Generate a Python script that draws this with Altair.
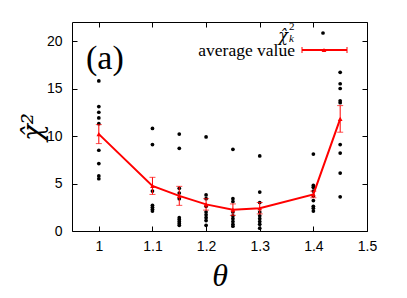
import altair as alt
import pandas as pd

theta_cols = [1.0, 1.1, 1.15, 1.2, 1.25, 1.3, 1.4, 1.45]
chi_k = [
    [15.8, 13.1, 12.5, 11.9, 11.3, 8.5, 7.1, 5.8, 5.5],
    [10.8, 9.1, 4.2, 2.7, 2.5, 2.3, 2.1],
    [10.2, 8.7, 4.5, 4.0, 3.4, 1.4, 1.2, 1.0, 0.8, 0.6],
    [9.9, 3.8, 3.4, 2.6, 2.0, 1.7, 1.4, 1.1, 0.6],
    [8.6, 3.4, 3.1, 2.0, 1.6, 1.3, 1.0, 0.7, 0.5],
    [7.9, 4.1, 3.0, 2.0, 1.6, 1.3, 1.0, 0.7, 0.3],
    [8.1, 4.8, 4.6, 4.2, 3.7, 3.2, 2.6, 2.4, 2.1],
    [16.7, 15.5, 15.0, 13.7, 13.5, 9.1, 8.2, 6.1, 3.6],
]
avg_value = [10.2, 4.75, 3.7, 2.8, 2.25, 2.4, 3.85, 11.8]
avg_err = [1.0, 0.9, 1.0, 0.6, 0.6, 0.6, 0.35, 1.4]
x_ticks = [1.0, 1.1, 1.2, 1.3, 1.4, 1.5]
y_ticks = [0, 5, 10, 15, 20]
panel_label = "(a)"
legend_labels = ["χ̂", "2", "k", "average value"]

W, H = 295, 209

pts_df = pd.DataFrame(
    [{"theta": t, "chi": v} for t, col in zip(theta_cols, chi_k) for v in col]
)
avg_df = pd.DataFrame({"theta": theta_cols, "avg": avg_value, "err": avg_err})

xs = alt.Scale(domain=[0.95, 1.5], nice=False, zero=False)
ys = alt.Scale(domain=[0, 22], nice=False, zero=False)

LABEL_FONT = "Liberation Sans"
SERIF = "Liberation Serif"
MATH = "DejaVu Serif"

base_axis = dict(grid=False, domain=False, labelFlush=False)

# points: main labeled axes
pts = alt.Chart(pts_df).mark_circle(color="black", size=14, opacity=1).encode(
    x=alt.X("theta:Q", scale=xs, axis=alt.Axis(
        orient="bottom", values=x_ticks, format="~g", ticks=False,
        labelFont=LABEL_FONT, labelFontSize=14, labelColor="black", labelPadding=8,
        title="θ", titleFont=SERIF, titleFontStyle="italic", titleFontWeight="normal",
        titleFontSize=32, titleColor="black", titleX=W / 2, titleY=44,
        titleBaseline="middle", titleAlign="center", **base_axis)),
    y=alt.Y("chi:Q", scale=ys, axis=alt.Axis(
        orient="left", values=y_ticks, ticks=False,
        labelFont=LABEL_FONT, labelFontSize=14, labelColor="black", labelPadding=10,
        title="χ̂²", titleFont=MATH, titleFontStyle="italic", titleFontWeight="normal",
        titleFontSize=28, titleColor="black", titleAngle=270, titleX=-39, titleY=H / 2,
        titleBaseline="middle", titleAlign="center", **base_axis)),
)

# average line: inward ticks at bottom and left edges
line = alt.Chart(avg_df).mark_line(color="red", strokeWidth=2).encode(
    x=alt.X("theta:Q", scale=xs, axis=alt.Axis(
        orient="top", offset=-H, values=x_ticks, labels=False, ticks=True,
        tickSize=5, tickColor="black", title=None, **base_axis)),
    y=alt.Y("avg:Q", scale=ys, axis=alt.Axis(
        orient="right", offset=-W, values=y_ticks, labels=False, ticks=True,
        tickSize=5, tickColor="black", title=None, **base_axis)),
)

# error bars: inward ticks at top and right edges
err = alt.Chart(avg_df).transform_calculate(
    lo="datum.avg - datum.err", hi="datum.avg + datum.err"
).mark_rule(color="red", strokeWidth=1).encode(
    x=alt.X("theta:Q", scale=xs, axis=alt.Axis(
        orient="bottom", offset=-H, values=x_ticks, labels=False, ticks=True,
        tickSize=5, tickColor="black", title=None, **base_axis)),
    y=alt.Y("lo:Q", scale=ys, axis=alt.Axis(
        orient="left", offset=-W, values=y_ticks, labels=False, ticks=True,
        tickSize=5, tickColor="black", title=None, **base_axis)),
    y2="hi:Q",
)

caps = alt.Chart(avg_df).transform_calculate(
    lo="datum.avg - datum.err", hi="datum.avg + datum.err"
).transform_fold(["lo", "hi"], as_=["k", "v"]).mark_tick(
    color="red", orient="horizontal", size=6, thickness=1
).encode(
    x=alt.X("theta:Q", scale=xs, axis=None),
    y=alt.Y("v:Q", scale=ys, axis=None),
)

tri = alt.Chart(avg_df).mark_point(
    shape="triangle-up", filled=True, color="red", size=22, opacity=1
).encode(
    x=alt.X("theta:Q", scale=xs, axis=None),
    y=alt.Y("avg:Q", scale=ys, axis=None),
)

one = pd.DataFrame({"a": [0]})

label_a = alt.Chart(one).mark_text(
    text=panel_label, font=SERIF, fontSize=34, align="left", baseline="middle", color="black"
).encode(x=alt.value(14), y=alt.value(37))

leg_chi = alt.Chart(one).mark_text(
    text=legend_labels[0], font=MATH, fontStyle="italic", fontSize=16,
    align="right", baseline="middle", color="black"
).encode(x=alt.value(216), y=alt.value(14))
leg_sup = alt.Chart(one).mark_text(
    text=legend_labels[1], font=SERIF, fontSize=11, align="left", baseline="middle", color="black"
).encode(x=alt.value(217), y=alt.value(5))
leg_sub = alt.Chart(one).mark_text(
    text=legend_labels[2], font=SERIF, fontStyle="italic", fontSize=11,
    align="left", baseline="middle", color="black"
).encode(x=alt.value(217), y=alt.value(17))
leg_dot = alt.Chart(one).mark_circle(color="black", size=14, opacity=1).encode(
    x=alt.value(251), y=alt.value(11))

leg_avg = alt.Chart(one).mark_text(
    text=legend_labels[3], font=SERIF, fontSize=17.5, align="right", baseline="middle", color="black"
).encode(x=alt.value(223), y=alt.value(29))
leg_line = alt.Chart(one).mark_rule(color="red", strokeWidth=2).encode(
    x=alt.value(230), x2=alt.value(275), y=alt.value(28))
leg_cap1 = alt.Chart(one).mark_rule(color="red", strokeWidth=1).encode(
    x=alt.value(230), y=alt.value(25), y2=alt.value(31))
leg_cap2 = alt.Chart(one).mark_rule(color="red", strokeWidth=1).encode(
    x=alt.value(275), y=alt.value(25), y2=alt.value(31))
leg_tri = alt.Chart(one).mark_point(
    shape="triangle-up", filled=True, color="red", size=22, opacity=1
).encode(x=alt.value(252), y=alt.value(28))

chart = alt.layer(
    pts, line, err, caps, tri, label_a,
    leg_chi, leg_sup, leg_sub, leg_dot, leg_avg, leg_line, leg_cap1, leg_cap2, leg_tri,
).resolve_axis(x="independent", y="independent").properties(
    width=W, height=H,
    autosize=alt.AutoSizeParams(type="none"),
    padding={"left": 64, "top": 14, "right": 32, "bottom": 67},
).configure_view(stroke="black", strokeWidth=1)

chart.save("out.html", embed_options={"renderer": "svg", "actions": False})
